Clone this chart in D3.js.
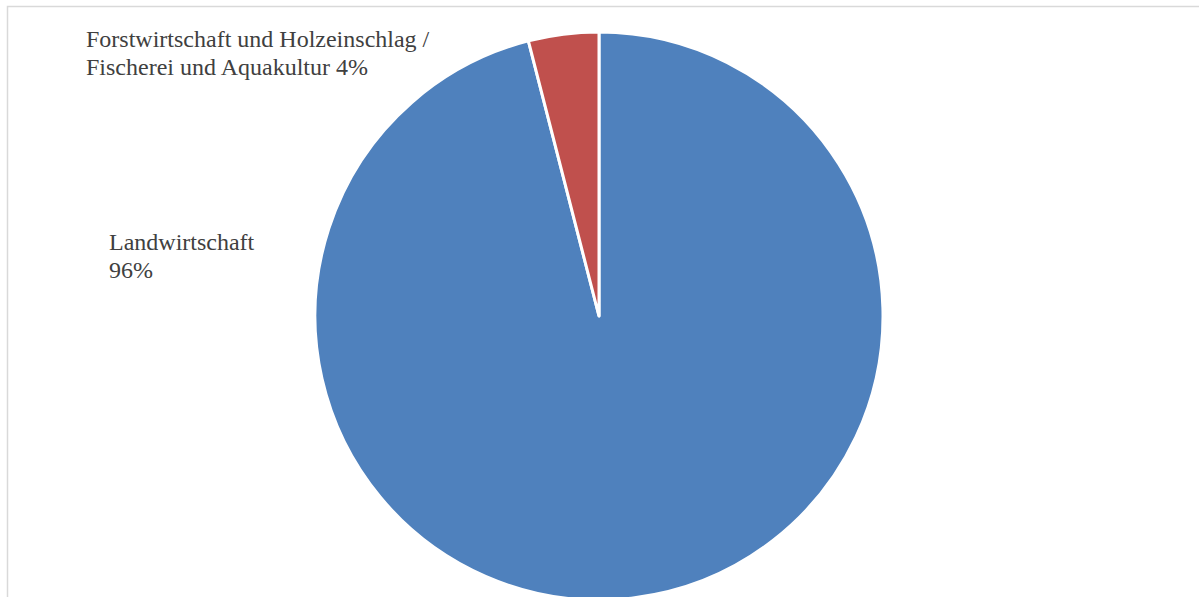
<!DOCTYPE html>
<html><head><meta charset="utf-8">
<script src="https://cdn.jsdelivr.net/npm/d3@7"></script>
<style>html,body{margin:0;padding:0;background:#fff;}svg{display:block;}</style>
</head><body>
<svg id="c" width="1199" height="597"></svg>
<script>
const categories = ["Landwirtschaft", "Forstwirtschaft und Holzeinschlag / Fischerei und Aquakultur"];
const values = [96, 4];
const colors = ["#4F81BD", "#C0504D"];
const labelLines = [["Landwirtschaft", "96%"], ["Forstwirtschaft und Holzeinschlag /", "Fischerei und Aquakultur 4%"]];

const svg = d3.select("#c");
svg.append("rect").attr("x", 7.5).attr("y", 6.5).attr("width", 1250).attr("height", 700)
  .attr("fill", "#fff").attr("stroke", "#d9d9d9").attr("stroke-width", 1.5);

const cx = 599, cy = 316, r = 284;
const pie = d3.pie().sort(null).value(d => d)(values);
const arc = d3.arc().innerRadius(0).outerRadius(r);
const g = svg.append("g").attr("transform", `translate(${cx},${cy})`);
g.selectAll("path").data(pie).join("path")
  .attr("d", arc).attr("fill", (d, i) => colors[i])
  .attr("stroke", "#fff").attr("stroke-width", 3).attr("stroke-linejoin", "round");

const labelPos = [[109, 250], [86, 47]];
labelLines.forEach((lines, i) => {
  const t = svg.append("text").attr("x", labelPos[i][0]).attr("y", labelPos[i][1])
    .attr("font-family", "'Liberation Serif', 'Times New Roman', serif")
    .attr("font-size", 24).attr("fill", "#404040");
  lines.forEach((l, j) => t.append("tspan").attr("x", labelPos[i][0]).attr("dy", j ? 27.5 : 0).text(l));
});
</script>
</body></html>
